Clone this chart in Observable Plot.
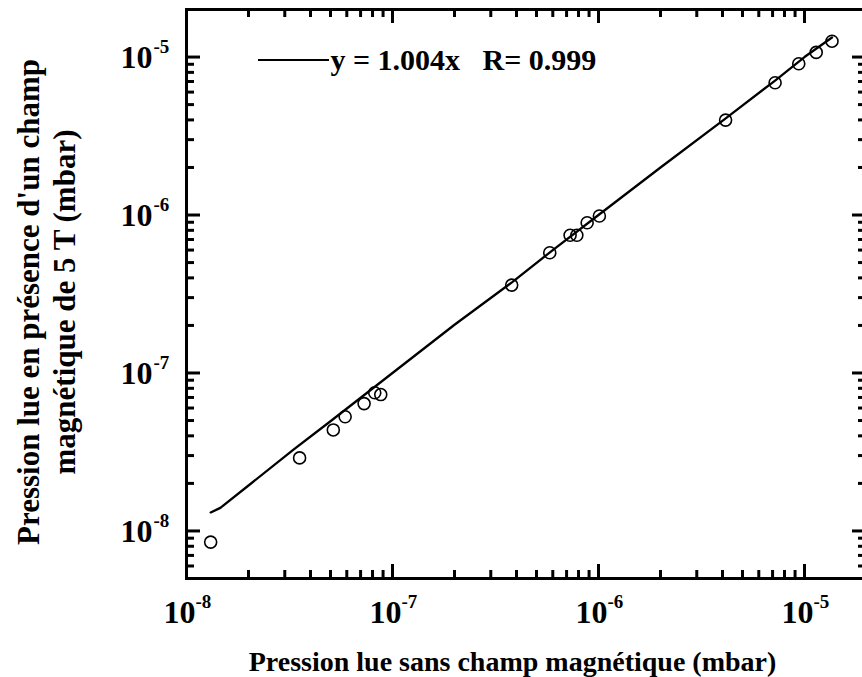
<!DOCTYPE html>
<html><head><meta charset="utf-8">
<script src="https://cdn.jsdelivr.net/npm/d3@7"></script>
<script src="https://cdn.jsdelivr.net/npm/@observablehq/plot@0.6"></script>
<style>html,body{margin:0;padding:0;background:#fff;overflow:hidden}</style>
</head><body><div id="chart"></div>
<script>
// Measured points: pressure without field (x) vs with 5 T field (y), mbar
const pointsX = [1.31e-8, 3.54e-8, 5.16e-8, 5.89e-8, 7.28e-8, 8.2e-8, 8.77e-8, 3.79e-7, 5.8e-7, 7.28e-7, 7.85e-7, 8.81e-7, 1.01e-6, 4.14e-6, 7.2e-6, 9.38e-6, 1.14e-5, 1.36e-5];
const pointsY = [8.5e-9, 2.9e-8, 4.36e-8, 5.28e-8, 6.4e-8, 7.5e-8, 7.3e-8, 3.6e-7, 5.77e-7, 7.45e-7, 7.45e-7, 8.93e-7, 9.86e-7, 3.99e-6, 6.88e-6, 9.07e-6, 1.07e-5, 1.26e-5];
// Fit line vertices
const fitX = [1.31e-8, 1.46e-8, 2.05e-8, 3.33e-8, 5.0e-8, 1.0e-7, 2.0e-7, 3.8e-7, 6.0e-7, 1.0e-6, 2.0e-6, 4.1e-6, 7.2e-6, 1.0e-5, 1.36e-5];
const fitY = [1.31e-8, 1.40e-8, 1.99e-8, 3.3e-8, 4.95e-8, 1.0e-7, 2.02e-7, 3.75e-7, 6.0e-7, 1.0e-6, 2.0e-6, 4.05e-6, 7.1e-6, 1.0e-5, 1.33e-5];
// Ticks
const xMajor = [1e-8, 1e-7, 1e-6, 1e-5];
const xExp = ["-8", "-7", "-6", "-5"];
const yMajor = [1e-8, 1e-7, 1e-6, 1e-5];
const yExp = ["-8", "-7", "-6", "-5"];
const legendText = "y = 1.004x   R= 0.999";
const xTitle = "Pression lue sans champ magnétique (mbar)";
const yTitle1 = "Pression lue en présence d'un champ";
const yTitle2 = "magnétique de 5 T (mbar)";

const xDomain = [1e-8, 2e-5], yDomain = [5e-9, 2e-5];
function minors(dom) {
  const out = [];
  for (let e = -9; e <= -4; e++) for (let m = 2; m <= 9; m++) {
    const v = m * Math.pow(10, e);
    if (v > dom[0] * 1.0001 && v < dom[1] * 0.9999) out.push(v);
  }
  return out;
}
const xMinor = minors(xDomain), yMinor = minors(yDomain);
const points = pointsX.map((x, i) => ({x, y: pointsY[i]}));
const fit = fitX.map((x, i) => ({x, y: fitY[i]}));

const W = 862, H = 677, mL = 186, mR = -4, mT = 9, mB = 99;
const pw = W - mL - mR, ph = H - mT - mB;
const font = "'Liberation Serif', 'Times New Roman', serif";
const TW = 3, big = 14, small = 8;
const T = {fontWeight: "bold", fill: "black", lineAnchor: "middle"};

const chart = Plot.plot({
  width: W, height: H, marginLeft: mL, marginRight: mR, marginTop: mT, marginBottom: mB,
  style: {fontFamily: font, fontWeight: "bold", background: "white", color: "black", overflow: "hidden"},
  x: {type: "log", domain: xDomain, axis: null},
  y: {type: "log", domain: yDomain, axis: null},
  marks: [
    Plot.tickX(xMajor, {x: d => d, insetTop: ph - big, strokeWidth: TW}),
    Plot.tickX(xMinor, {x: d => d, insetTop: ph - small, strokeWidth: TW}),
    Plot.tickX(xMajor, {x: d => d, insetBottom: ph - big, strokeWidth: TW}),
    Plot.tickX(xMinor, {x: d => d, insetBottom: ph - small, strokeWidth: TW}),
    Plot.tickY(yMajor, {y: d => d, insetRight: pw - big, strokeWidth: TW}),
    Plot.tickY(yMinor, {y: d => d, insetRight: pw - small, strokeWidth: TW}),
    Plot.tickY(yMajor, {y: d => d, insetLeft: pw - big, strokeWidth: TW}),
    Plot.tickY(yMinor, {y: d => d, insetLeft: pw - small, strokeWidth: TW}),
    Plot.frame({stroke: "black", strokeWidth: TW}),
    // x tick labels
    Plot.text(xMajor, {...T, x: d => d, text: () => "10", frameAnchor: "bottom", dy: 34, dx: 9, textAnchor: "end", fontSize: 32}),
    Plot.text(xMajor, {...T, x: d => d, text: (d, i) => xExp[i], frameAnchor: "bottom", dy: 23, dx: 9, textAnchor: "start", fontSize: 19}),
    // y tick labels
    Plot.text(yMajor, {...T, y: d => d, text: () => "10", frameAnchor: "left", dx: -34, dy: 1, textAnchor: "end", fontSize: 32}),
    Plot.text(yMajor, {...T, y: d => d, text: (d, i) => yExp[i], frameAnchor: "left", dx: -33, dy: -10, textAnchor: "start", fontSize: 19}),
    // titles
    Plot.text([xTitle], {...T, text: d => d, frameAnchor: "bottom", dx: -14, dy: 84, textAnchor: "middle", fontSize: 28}),
    Plot.text([yTitle1], {...T, text: d => d, frameAnchor: "left", rotate: -90, dx: -157, dy: 8, textAnchor: "middle", fontSize: 31}),
    Plot.text([yTitle2], {...T, text: d => d, frameAnchor: "left", rotate: -90, dx: -121, dy: 8, textAnchor: "middle", fontSize: 31}),
    // legend
    Plot.text([legendText], {...T, text: d => d, frameAnchor: "top-left", dx: 144, dy: 51, textAnchor: "start", fontSize: 30}),
    // data
    Plot.line(fit, {x: "x", y: "y", stroke: "black", strokeWidth: 2.3}),
    Plot.dot(points, {x: "x", y: "y", r: 6, stroke: "black", strokeWidth: 1.6, fill: "none"})
  ]
});
d3.select(chart).append("line")
  .attr("x1", 258).attr("x2", 329).attr("y1", 60).attr("y2", 60)
  .attr("stroke", "black").attr("stroke-width", 2);
document.getElementById("chart").appendChild(chart);
</script></body></html>
